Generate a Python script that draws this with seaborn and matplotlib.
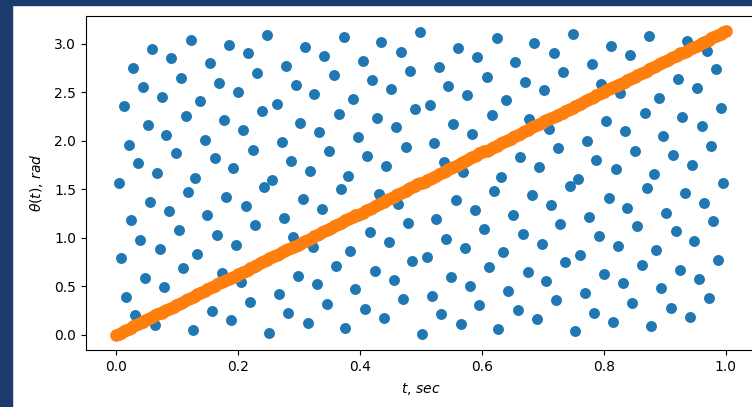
import matplotlib
matplotlib.use("Agg")
import matplotlib.pyplot as plt
from matplotlib.patches import Rectangle
import seaborn as sns

# sample times, 256 points over one second
t_sec = [
    0.000, 0.004, 0.008, 0.012, 0.016, 0.020, 0.024, 0.027, 0.031, 0.035, 0.039, 0.043, 0.047,
    0.051, 0.055, 0.059, 0.063, 0.067, 0.071, 0.075, 0.078, 0.082, 0.086, 0.090, 0.094, 0.098,
    0.102, 0.106, 0.110, 0.114, 0.118, 0.122, 0.125, 0.129, 0.133, 0.137, 0.141, 0.145, 0.149,
    0.153, 0.157, 0.161, 0.165, 0.169, 0.173, 0.176, 0.180, 0.184, 0.188, 0.192, 0.196,
    0.200, 0.204, 0.208, 0.212, 0.216, 0.220, 0.224, 0.227, 0.231, 0.235, 0.239, 0.243, 0.247,
    0.251, 0.255, 0.259, 0.263, 0.267, 0.271, 0.275, 0.278, 0.282, 0.286, 0.290, 0.294, 0.298,
    0.302, 0.306, 0.310, 0.314, 0.318, 0.322, 0.325, 0.329, 0.333, 0.337, 0.341, 0.345, 0.349,
    0.353, 0.357, 0.361, 0.365, 0.369, 0.373, 0.376, 0.380, 0.384, 0.388, 0.392, 0.396,
    0.400, 0.404, 0.408, 0.412, 0.416, 0.420, 0.424, 0.427, 0.431, 0.435, 0.439, 0.443, 0.447,
    0.451, 0.455, 0.459, 0.463, 0.467, 0.471, 0.475, 0.478, 0.482, 0.486, 0.490, 0.494, 0.498,
    0.502, 0.506, 0.510, 0.514, 0.518, 0.522, 0.525, 0.529, 0.533, 0.537, 0.541, 0.545, 0.549,
    0.553, 0.557, 0.561, 0.565, 0.569, 0.573, 0.576, 0.580, 0.584, 0.588, 0.592, 0.596,
    0.600, 0.604, 0.608, 0.612, 0.616, 0.620, 0.624, 0.627, 0.631, 0.635, 0.639, 0.643, 0.647,
    0.651, 0.655, 0.659, 0.663, 0.667, 0.671, 0.675, 0.678, 0.682, 0.686, 0.690, 0.694, 0.698,
    0.702, 0.706, 0.710, 0.714, 0.718, 0.722, 0.725, 0.729, 0.733, 0.737, 0.741, 0.745, 0.749,
    0.753, 0.757, 0.761, 0.765, 0.769, 0.773, 0.776, 0.780, 0.784, 0.788, 0.792, 0.796,
    0.800, 0.804, 0.808, 0.812, 0.816, 0.820, 0.824, 0.827, 0.831, 0.835, 0.839, 0.843, 0.847,
    0.851, 0.855, 0.859, 0.863, 0.867, 0.871, 0.875, 0.878, 0.882, 0.886, 0.890, 0.894, 0.898,
    0.902, 0.906, 0.910, 0.914, 0.918, 0.922, 0.925, 0.929, 0.933, 0.937, 0.941, 0.945, 0.949,
    0.953, 0.957, 0.961, 0.965, 0.969, 0.973, 0.976, 0.980, 0.984, 0.988, 0.992, 0.996,
    1.000,
]

# blue points: angles in shuffled (bit-reversed) order
theta_shuffled = [
    0.00, 1.57, 0.79, 2.36, 0.39, 1.96, 1.18, 2.75, 0.20, 1.77, 0.98, 2.55, 0.59, 2.16, 1.37, 2.95,
    0.10, 1.67, 0.88, 2.45, 0.49, 2.06, 1.28, 2.85, 0.29, 1.87, 1.08, 2.65, 0.69, 2.26, 1.47, 3.04,
    0.05, 1.62, 0.83, 2.41, 0.44, 2.01, 1.23, 2.80, 0.25, 1.82, 1.03, 2.60, 0.64, 2.21, 1.42, 2.99,
    0.15, 1.72, 0.93, 2.50, 0.54, 2.11, 1.33, 2.90, 0.34, 1.91, 1.13, 2.70, 0.74, 2.31, 1.52, 3.09,
    0.02, 1.60, 0.81, 2.38, 0.42, 1.99, 1.20, 2.77, 0.22, 1.79, 1.01, 2.58, 0.61, 2.18, 1.40, 2.97,
    0.12, 1.69, 0.91, 2.48, 0.52, 2.09, 1.30, 2.87, 0.32, 1.89, 1.10, 2.68, 0.71, 2.28, 1.50, 3.07,
    0.07, 1.64, 0.86, 2.43, 0.47, 2.04, 1.25, 2.82, 0.27, 1.84, 1.06, 2.63, 0.66, 2.23, 1.45, 3.02,
    0.17, 1.74, 0.96, 2.53, 0.56, 2.14, 1.35, 2.92, 0.37, 1.94, 1.15, 2.72, 0.76, 2.33, 1.55, 3.12,
    0.01, 1.58, 0.80, 2.37, 0.40, 1.98, 1.19, 2.76, 0.21, 1.78, 0.99, 2.56, 0.60, 2.17, 1.39, 2.96,
    0.11, 1.68, 0.90, 2.47, 0.50, 2.07, 1.29, 2.86, 0.31, 1.88, 1.09, 2.66, 0.70, 2.27, 1.48, 3.06,
    0.06, 1.63, 0.85, 2.42, 0.45, 2.02, 1.24, 2.81, 0.26, 1.83, 1.04, 2.61, 0.65, 2.22, 1.44, 3.01,
    0.16, 1.73, 0.94, 2.52, 0.55, 2.12, 1.34, 2.91, 0.36, 1.93, 1.14, 2.71, 0.75, 2.32, 1.53, 3.10,
    0.04, 1.61, 0.82, 2.39, 0.43, 2.00, 1.21, 2.79, 0.23, 1.80, 1.02, 2.59, 0.63, 2.20, 1.41, 2.98,
    0.13, 1.71, 0.92, 2.49, 0.53, 2.10, 1.31, 2.88, 0.33, 1.90, 1.12, 2.69, 0.72, 2.29, 1.51, 3.08,
    0.09, 1.66, 0.87, 2.44, 0.48, 2.05, 1.26, 2.83, 0.28, 1.85, 1.07, 2.64, 0.67, 2.25, 1.46, 3.03,
    0.18, 1.75, 0.97, 2.54, 0.58, 2.15, 1.36, 2.93, 0.38, 1.95, 1.17, 2.74, 0.77, 2.34, 1.56, 3.13,
]

# orange points: same angles in order
theta_sorted = [
    0.00, 0.01, 0.02, 0.04, 0.05, 0.06, 0.07, 0.09, 0.10, 0.11, 0.12, 0.13, 0.15, 0.16, 0.17, 0.18,
    0.20, 0.21, 0.22, 0.23, 0.25, 0.26, 0.27, 0.28, 0.29, 0.31, 0.32, 0.33, 0.34, 0.36, 0.37, 0.38,
    0.39, 0.40, 0.42, 0.43, 0.44, 0.45, 0.47, 0.48, 0.49, 0.50, 0.52, 0.53, 0.54, 0.55, 0.56, 0.58,
    0.59, 0.60, 0.61, 0.63, 0.64, 0.65, 0.66, 0.67, 0.69, 0.70, 0.71, 0.72, 0.74, 0.75, 0.76, 0.77,
    0.79, 0.80, 0.81, 0.82, 0.83, 0.85, 0.86, 0.87, 0.88, 0.90, 0.91, 0.92, 0.93, 0.94, 0.96, 0.97,
    0.98, 0.99, 1.01, 1.02, 1.03, 1.04, 1.06, 1.07, 1.08, 1.09, 1.10, 1.12, 1.13, 1.14, 1.15, 1.17,
    1.18, 1.19, 1.20, 1.21, 1.23, 1.24, 1.25, 1.26, 1.28, 1.29, 1.30, 1.31, 1.33, 1.34, 1.35, 1.36,
    1.37, 1.39, 1.40, 1.41, 1.42, 1.44, 1.45, 1.46, 1.47, 1.48, 1.50, 1.51, 1.52, 1.53, 1.55, 1.56,
    1.57, 1.58, 1.60, 1.61, 1.62, 1.63, 1.64, 1.66, 1.67, 1.68, 1.69, 1.71, 1.72, 1.73, 1.74, 1.75,
    1.77, 1.78, 1.79, 1.80, 1.82, 1.83, 1.84, 1.85, 1.87, 1.88, 1.89, 1.90, 1.91, 1.93, 1.94, 1.95,
    1.96, 1.98, 1.99, 2.00, 2.01, 2.02, 2.04, 2.05, 2.06, 2.07, 2.09, 2.10, 2.11, 2.12, 2.14, 2.15,
    2.16, 2.17, 2.18, 2.20, 2.21, 2.22, 2.23, 2.25, 2.26, 2.27, 2.28, 2.29, 2.31, 2.32, 2.33, 2.34,
    2.36, 2.37, 2.38, 2.39, 2.41, 2.42, 2.43, 2.44, 2.45, 2.47, 2.48, 2.49, 2.50, 2.52, 2.53, 2.54,
    2.55, 2.56, 2.58, 2.59, 2.60, 2.61, 2.63, 2.64, 2.65, 2.66, 2.68, 2.69, 2.70, 2.71, 2.72, 2.74,
    2.75, 2.76, 2.77, 2.79, 2.80, 2.81, 2.82, 2.83, 2.85, 2.86, 2.87, 2.88, 2.90, 2.91, 2.92, 2.93,
    2.95, 2.96, 2.97, 2.98, 2.99, 3.01, 3.02, 3.03, 3.04, 3.06, 3.07, 3.08, 3.09, 3.10, 3.12, 3.13,
]

W, H = 752, 407
fig = plt.figure(figsize=(W / 100, H / 100), dpi=100)

# dark frame of the screenshot (left and top edges)
frame_col = "#1b3a6e"
fig.patches.append(Rectangle((0, 0), 12 / W, 1, transform=fig.transFigure, color=frame_col))
fig.patches.append(Rectangle((0, 1 - 5 / H), 1, 5 / H, transform=fig.transFigure, color=frame_col))

# axes run past the right edge, as in the cropped screenshot
ax = fig.add_axes([86 / W, 57 / H, 670 / W, 334 / H])

sns.scatterplot(x=t_sec, y=theta_shuffled, color="C0", s=62, linewidth=0, ax=ax)
sns.scatterplot(x=t_sec, y=theta_sorted, color="C1", s=62, linewidth=1.2,
                edgecolor="C1", ax=ax)

ax.set_xlabel("$t$, $sec$", labelpad=5)
ax.set_ylabel(r"$\theta(t)$, $rad$", labelpad=7)

fig.savefig("out.png", dpi=100)
